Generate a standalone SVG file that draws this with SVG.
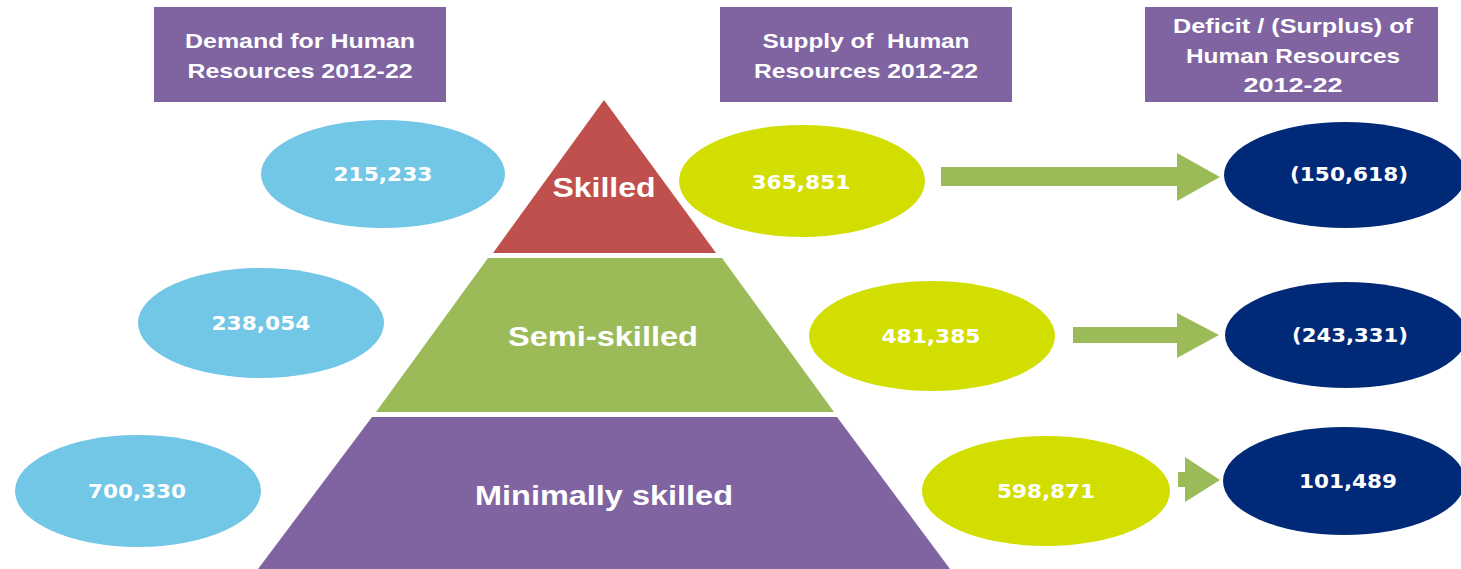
<svg xmlns="http://www.w3.org/2000/svg" width="1461" height="569" viewBox="0 0 1461 569">
<style>
.hdr{fill:#8064A2}
.ht{font-family:"Liberation Sans",Arial,sans-serif;font-weight:bold;font-size:21px;fill:#ffffff;text-anchor:middle}
.pt{font-family:"Liberation Sans",Arial,sans-serif;font-weight:bold;font-size:28px;fill:#ffffff;text-anchor:middle}
.nt{font-family:"DejaVu Sans",Verdana,sans-serif;font-weight:bold;font-size:19px;fill:#ffffff;text-anchor:middle}
.dem{fill:#72C6E6}
.sup{fill:#D2DE00}
.def{fill:#002A77}
.arr{fill:#9BBB59}
</style>
<rect width="1461" height="569" fill="#ffffff"/>
<g id="hdr-demand">
<rect class="hdr" x="154" y="7" width="292" height="95"/>
<text class="ht" x="300" y="48" textLength="230" lengthAdjust="spacingAndGlyphs">Demand for Human</text>
<text class="ht" x="300" y="78" textLength="225" lengthAdjust="spacingAndGlyphs">Resources 2012-22</text>
</g>
<g id="hdr-supply">
<rect class="hdr" x="720" y="7" width="292" height="95"/>
<text class="ht" x="866" y="48" textLength="207" lengthAdjust="spacingAndGlyphs" xml:space="preserve" style="white-space:pre">Supply of  Human</text>
<text class="ht" x="866" y="78" textLength="224" lengthAdjust="spacingAndGlyphs">Resources 2012-22</text>
</g>
<g id="hdr-deficit">
<rect class="hdr" x="1145" y="7" width="293" height="95"/>
<text class="ht" x="1293" y="33" textLength="240" lengthAdjust="spacingAndGlyphs">Deficit / (Surplus) of</text>
<text class="ht" x="1293" y="63" textLength="214" lengthAdjust="spacingAndGlyphs">Human Resources</text>
<text class="ht" x="1293" y="92" textLength="99" lengthAdjust="spacingAndGlyphs">2012-22</text>
</g>
<g id="tier-skilled">
<polygon points="604,100 716,253 493,253" fill="#C0504D"/>
<text class="pt" x="604" y="197" textLength="103" lengthAdjust="spacingAndGlyphs">Skilled</text>
</g>
<g id="tier-semiskilled">
<polygon points="488,258 722,258 834,412 376,412" fill="#9BBB59"/>
<text class="pt" x="603" y="346" textLength="190" lengthAdjust="spacingAndGlyphs">Semi-skilled</text>
</g>
<g id="tier-minimally">
<polygon points="372,417 837,417 950,569 258,569" fill="#8064A2"/>
<text class="pt" x="604" y="505" textLength="258" lengthAdjust="spacingAndGlyphs">Minimally skilled</text>
</g>
<g id="demand-skilled">
<ellipse class="dem" cx="383" cy="174" rx="122" ry="54"/>
<text class="nt" x="383" y="181" textLength="99" lengthAdjust="spacingAndGlyphs">215,233</text>
</g>
<g id="demand-semiskilled">
<ellipse class="dem" cx="261" cy="323" rx="123" ry="55"/>
<text class="nt" x="261" y="330" textLength="99" lengthAdjust="spacingAndGlyphs">238,054</text>
</g>
<g id="demand-minimally">
<ellipse class="dem" cx="138" cy="491" rx="123" ry="56"/>
<text class="nt" x="137" y="498" textLength="98" lengthAdjust="spacingAndGlyphs">700,330</text>
</g>
<g id="supply-skilled">
<ellipse class="sup" cx="802" cy="181" rx="123" ry="56"/>
<text class="nt" x="801" y="189" textLength="99" lengthAdjust="spacingAndGlyphs">365,851</text>
</g>
<g id="supply-semiskilled">
<ellipse class="sup" cx="932" cy="336" rx="123" ry="55"/>
<text class="nt" x="931" y="343" textLength="99" lengthAdjust="spacingAndGlyphs">481,385</text>
</g>
<g id="supply-minimally">
<ellipse class="sup" cx="1046" cy="491" rx="124" ry="55"/>
<text class="nt" x="1046" y="498" textLength="98" lengthAdjust="spacingAndGlyphs">598,871</text>
</g>
<g id="deficit-skilled">
<ellipse class="def" cx="1345" cy="175" rx="121" ry="53"/>
<text class="nt" x="1349" y="181" textLength="118" lengthAdjust="spacingAndGlyphs">(150,618)</text>
</g>
<g id="deficit-semiskilled">
<ellipse class="def" cx="1346" cy="335" rx="121" ry="53"/>
<text class="nt" x="1350" y="342" textLength="116" lengthAdjust="spacingAndGlyphs">(243,331)</text>
</g>
<g id="deficit-minimally">
<ellipse class="def" cx="1344" cy="481" rx="121" ry="54"/>
<text class="nt" x="1348" y="488" textLength="98" lengthAdjust="spacingAndGlyphs">101,489</text>
</g>
<g id="connectors">
<polygon class="arr" points="941,167 1177,167 1177,153 1220,177 1177,201 1177,186 941,186"/>
<polygon class="arr" points="1073,327 1177,327 1177,313 1219,335 1177,358 1177,343 1073,343"/>
<polygon class="arr" points="1178,472 1185,472 1185,457 1220,480 1185,502 1185,487 1178,487"/>
</g>
</svg>
